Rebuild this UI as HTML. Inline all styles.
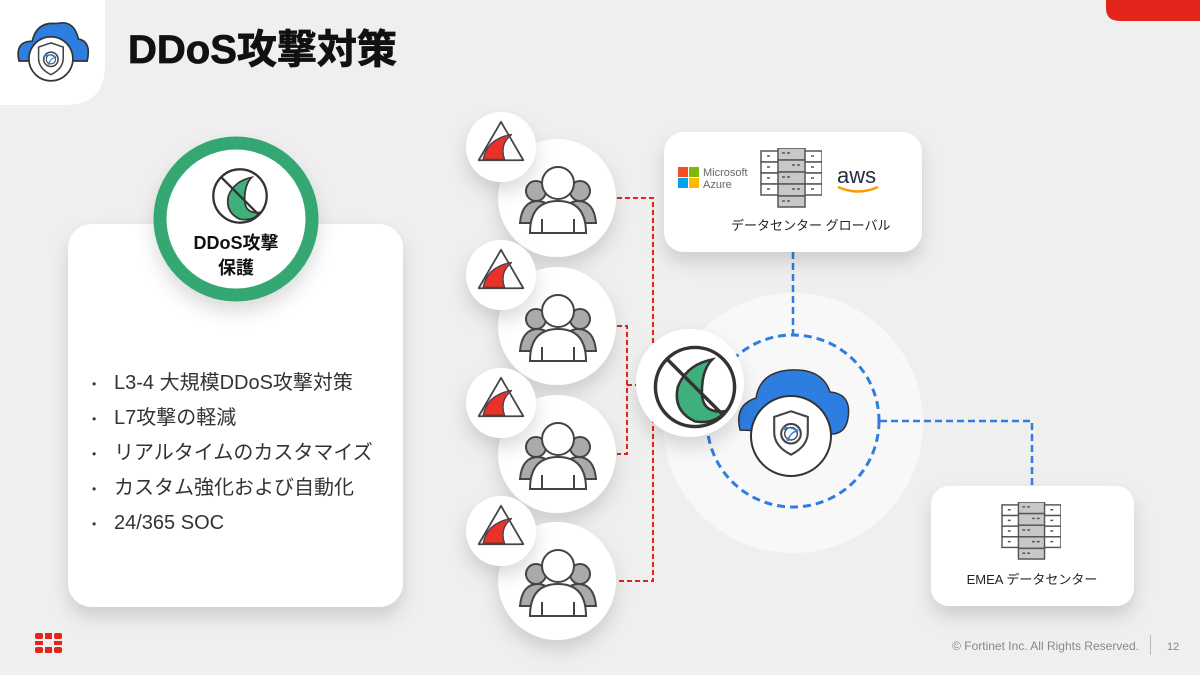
<!DOCTYPE html>
<html><head><meta charset="utf-8"><style>
html,body{margin:0;padding:0}
body{width:1200px;height:675px;overflow:hidden;background:#efefef;font-family:"Liberation Sans","Noto Sans CJK JP",sans-serif;}
svg{position:absolute;left:0;top:0}
</style></head><body>
<svg width="1200" height="675" viewBox="0 0 1200 675" xmlns="http://www.w3.org/2000/svg" font-family="Liberation Sans, Noto Sans CJK JP, sans-serif">
<defs>
<filter id="sh" x="-30%" y="-30%" width="160%" height="180%"><feDropShadow dx="0" dy="10" stdDeviation="9" flood-color="#000" flood-opacity="0.14"/></filter>
<symbol id="srv" viewBox="0 0 62 60">
 <g stroke="#555" stroke-width="1.5" fill="#fff">
  <rect x="1" y="3" width="18" height="11"/><rect x="1" y="14" width="18" height="11"/><rect x="1" y="25" width="18" height="11"/><rect x="1" y="36" width="18" height="11"/>
  <rect x="44" y="3" width="18" height="11"/><rect x="44" y="14" width="18" height="11"/><rect x="44" y="25" width="18" height="11"/><rect x="44" y="36" width="18" height="11"/>
  <g fill="#c8c8c8"><rect x="18" y="0" width="27" height="12"/><rect x="18" y="12" width="27" height="12"/><rect x="18" y="24" width="27" height="12"/><rect x="18" y="36" width="27" height="12"/><rect x="18" y="48" width="27" height="11"/></g>
 </g>
 <g stroke="#555" stroke-width="1.5">
  <path d="M7 8h4M7 19h4M7 30h4M7 41h4M51 8h4M51 19h4M51 30h4M51 41h4M22 5h8M32 17h8M22 29h8M32 41h8M22 53h8" stroke-dasharray="3 2"/>
 </g>
</symbol>
<symbol id="users" viewBox="0 0 80 70">
 <g stroke="#444" stroke-width="2">
  <circle cx="18" cy="26" r="10" fill="#aaa"/><circle cx="62" cy="26" r="10" fill="#aaa"/>
  <path d="M2 58 Q4 36 20 36 Q34 36 36 58Z" fill="#aaa"/><path d="M44 58 Q46 36 60 36 Q76 36 78 58Z" fill="#aaa"/>
  <circle cx="40" cy="18" r="16" fill="#fff"/>
  <path d="M12 68 Q12 36 40 36 Q68 36 68 68Z" fill="#fff"/>
  <path d="M24 54v14M56 54v14" fill="none"/>
 </g>
</symbol>
<symbol id="warn" viewBox="0 0 56 50">
 <path d="M28 3 L53 46 L3 46Z" fill="#fff" stroke="#444" stroke-width="2" stroke-linejoin="round"/>
 <path d="M8 45 Q12 22 40 17 Q26 28 32 45Z" fill="#e8322a" stroke="#444" stroke-width="1.5"/>
</symbol>
<symbol id="nod" viewBox="0 0 100 100">
 <circle cx="50" cy="50" r="46" fill="#fff" stroke="#333" stroke-width="4"/>
 <path d="M70 18 Q40 24 30 50 Q24 78 50 90 Q72 94 86 78 Q58 82 58 56 Q58 30 70 18Z" fill="#3faf7c" stroke="#333" stroke-width="3"/>
 <path d="M18 18 L82 82" stroke="#333" stroke-width="4"/>
</symbol>
<symbol id="shield" viewBox="0 0 60 70">
 <path d="M30 4 L54 12 V34 Q54 54 30 66 Q6 54 6 34 V12Z" fill="#fff" stroke="#444" stroke-width="3"/>
 <circle cx="30" cy="36" r="14" fill="none" stroke="#444" stroke-width="3"/>
 <circle cx="30" cy="36" r="9" fill="none" stroke="#444" stroke-width="2"/>
 <path d="M20 28 Q32 26 38 32 M26 44 Q30 34 38 32" fill="none" stroke="#2e7de0" stroke-width="2"/>
 <circle cx="20" cy="28" r="2.5" fill="#2e7de0"/><circle cx="38" cy="32" r="2.5" fill="#2e7de0"/><circle cx="26" cy="44" r="2.5" fill="#2e7de0"/>
</symbol>
</defs>

<!-- top-left tile -->
<path d="M0 0 H105 V65 Q105 105 65 105 H0Z" fill="#fff"/>
<g transform="translate(52,50) scale(1.1)">
 <path d="M-30 10 Q-34 -8 -18 -8 Q-14 -26 4 -24 Q20 -28 24 -10 Q36 -8 32 10Z" fill="#2e7de0" stroke="#333" stroke-width="1.5"/>
 <circle cx="-1" cy="8" r="20" fill="#fff" stroke="#333" stroke-width="1.5"/>
 <use href="#shield" x="-15" y="-9" width="28" height="34"/>
</g>
<text x="128" y="63" font-size="40" font-weight="bold" fill="#111" stroke="#111" stroke-width="0.8">DDoS攻撃対策</text>
<path d="M1106 0 H1200 V21 H1120 Q1106 21 1106 8Z" fill="#e3241b"/>

<!-- left card -->
<rect x="68" y="224" width="335" height="383" rx="24" fill="#fff" filter="url(#sh)"/>
<circle cx="236" cy="219" r="76" fill="#fff" stroke="#35a773" stroke-width="13" filter="url(#sh)"/>
<use href="#nod" x="211" y="167" width="58" height="58"/>
<text x="236" y="249" font-size="18" font-weight="bold" text-anchor="middle" fill="#111">DDoS攻撃</text>
<text x="236" y="274" font-size="18" font-weight="bold" text-anchor="middle" fill="#111">保護</text>
<g font-size="20" fill="#333">
 <text x="92" y="388" font-size="12">•</text><text x="114" y="389">L3-4 大規模DDoS攻撃対策</text>
 <text x="92" y="423" font-size="12">•</text><text x="114" y="424">L7攻撃の軽減</text>
 <text x="92" y="458" font-size="12">•</text><text x="114" y="459">リアルタイムのカスタマイズ</text>
 <text x="92" y="493" font-size="12">•</text><text x="114" y="494">カスタム強化および自動化</text>
 <text x="92" y="528" font-size="12">•</text><text x="114" y="529">24/365 SOC</text>
</g>

<!-- red dashed lines -->
<g stroke="#e3241b" stroke-width="2" stroke-dasharray="5 3" fill="none">
 <path d="M617 198 H653 V581 H617"/>
 <path d="M617 326 H627 V454 H617"/>
 <path d="M627 385 H640"/>
</g>

<!-- user circles -->
<g filter="url(#sh)" fill="#fff">
 <circle cx="557" cy="198" r="59"/><circle cx="557" cy="326" r="59"/><circle cx="557" cy="454" r="59"/><circle cx="557" cy="581" r="59"/>
</g>
<g filter="url(#sh)" fill="#fff">
 <circle cx="501" cy="147" r="35"/><circle cx="501" cy="275" r="35"/><circle cx="501" cy="403" r="35"/><circle cx="501" cy="531" r="35"/>
</g>
<use href="#users" x="518" y="165" width="80" height="70"/>
<use href="#users" x="518" y="293" width="80" height="70"/>
<use href="#users" x="518" y="421" width="80" height="70"/>
<use href="#users" x="518" y="548" width="80" height="70"/>
<use href="#warn" x="476" y="119" width="50" height="45"/>
<use href="#warn" x="476" y="247" width="50" height="45"/>
<use href="#warn" x="476" y="375" width="50" height="45"/>
<use href="#warn" x="476" y="503" width="50" height="45"/>

<!-- center -->
<circle cx="793" cy="423" r="130" fill="#f8f8f8"/>
<g stroke="#2e7de0" stroke-width="2.5" stroke-dasharray="7 4" fill="none">
 <path d="M793 252 V335"/>
 <path d="M880 421 H1032 V486"/>
</g>
<circle cx="793" cy="421" r="86" fill="none" stroke="#2e7de0" stroke-width="3" stroke-dasharray="8 5"/>
<path d="M740 430 Q734 405 756 398 Q760 372 790 370 Q822 368 830 392 Q852 394 848 418 Q846 432 834 434 Z" fill="#2e7de0" stroke="#333" stroke-width="1.5"/>
<circle cx="791" cy="436" r="40" fill="#fff" stroke="#333" stroke-width="2"/>
<use href="#shield" x="770" y="408" width="42" height="50"/>
<circle cx="690" cy="383" r="54" fill="#fff" filter="url(#sh)"/>
<use href="#nod" x="652" y="344" width="86" height="86"/>

<!-- top card -->
<rect x="664" y="132" width="258" height="120" rx="20" fill="#fff" filter="url(#sh)"/>
<rect x="678" y="167" width="10" height="10" fill="#f25022"/><rect x="689" y="167" width="10" height="10" fill="#7fba00"/>
<rect x="678" y="178" width="10" height="10" fill="#00a4ef"/><rect x="689" y="178" width="10" height="10" fill="#ffb900"/>
<text x="703" y="176" font-size="11" fill="#666">Microsoft</text>
<text x="703" y="188" font-size="11" fill="#666">Azure</text>
<use href="#srv" x="760" y="148" width="62" height="60"/>
<text x="837" y="183" font-size="22" fill="#232f3e">aws</text>
<path d="M838 187 Q858 196 878 187" fill="none" stroke="#f90" stroke-width="2.5"/>
<text x="731" y="230" font-size="13" fill="#222">データセンター グローバル</text>

<!-- EMEA card -->
<rect x="931" y="486" width="203" height="120" rx="18" fill="#fff" filter="url(#sh)"/>
<use href="#srv" x="1001" y="502" width="60" height="58"/>
<text x="1032" y="584" font-size="13" text-anchor="middle" fill="#222">EMEA データセンター</text>

<!-- footer -->
<g fill="#e3241b">
 <rect x="35" y="633" width="8" height="6" rx="2"/><rect x="45" y="633" width="7" height="6"/><rect x="54" y="633" width="8" height="6" rx="2"/>
 <rect x="35" y="641" width="8" height="4"/><rect x="54" y="641" width="8" height="4"/>
 <rect x="35" y="647" width="8" height="6" rx="2"/><rect x="45" y="647" width="7" height="6"/><rect x="54" y="647" width="8" height="6" rx="2"/>
</g>
<text x="1139" y="650" font-size="12" text-anchor="end" fill="#888">© Fortinet Inc. All Rights Reserved.</text>
<rect x="1150" y="635" width="1" height="20" fill="#bbb"/>
<text x="1167" y="650" font-size="11" fill="#888">12</text>
</svg>
</body></html>
